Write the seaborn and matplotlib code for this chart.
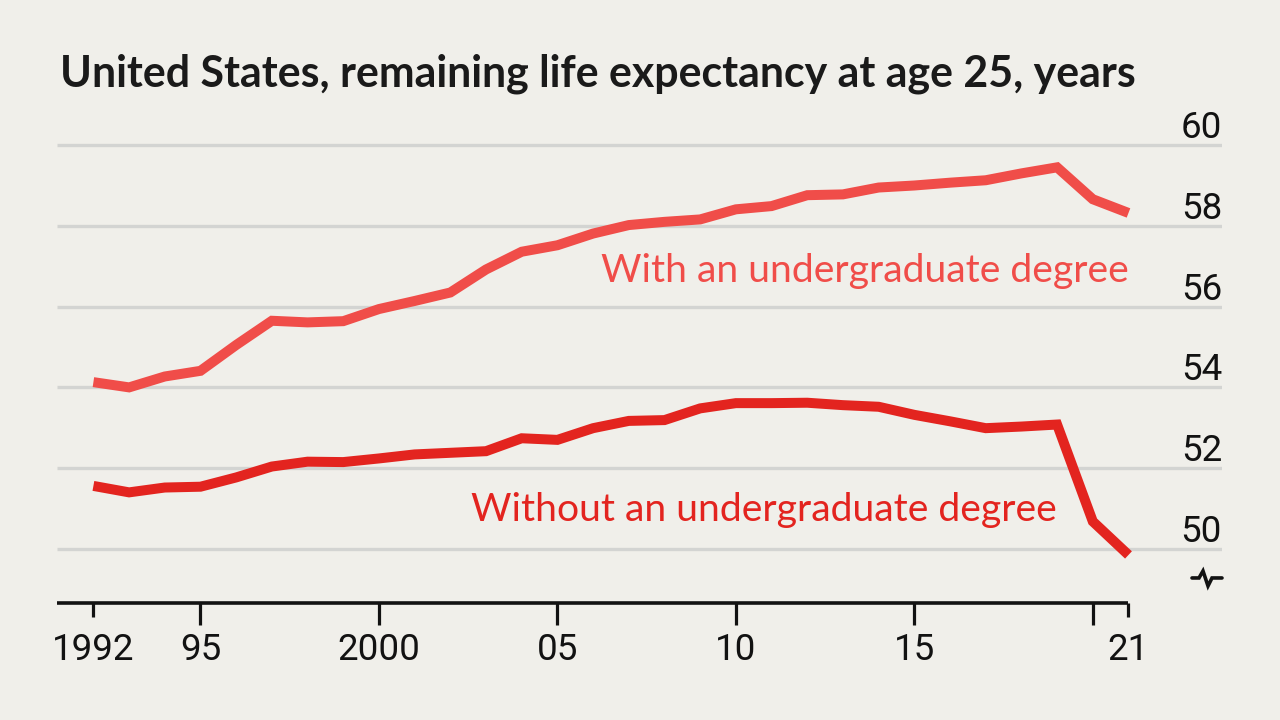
import numpy as np
import pandas as pd
import matplotlib
matplotlib.use("Agg")
import matplotlib.pyplot as plt
import seaborn as sns

years = list(range(1992, 2022))
with_degree = [54.13, 54.0, 54.27, 54.41, 55.05, 55.65, 55.61, 55.64, 55.94, 56.14,
               56.35, 56.92, 57.36, 57.52, 57.81, 58.02, 58.10, 58.16, 58.41, 58.49,
               58.76, 58.78, 58.95, 59.0, 59.07, 59.13, 59.3, 59.45, 58.66, 58.32]
without_degree = [51.56, 51.40, 51.52, 51.54, 51.77, 52.04, 52.16, 52.15, 52.24, 52.34,
                  52.38, 52.42, 52.74, 52.70, 52.99, 53.17, 53.19, 53.48, 53.61, 53.61,
                  53.62, 53.56, 53.52, 53.32, 53.16, 52.99, 53.03, 53.08, 50.68, 49.85]
series_names = ["With an undergraduate degree", "Without an undergraduate degree"]
series_colors = ["#F04D49", "#E3241F"]
y_ticks = [50, 52, 54, 56, 58, 60]
x_ticks = [1992, 1995, 2000, 2005, 2010, 2015, 2020, 2021]
x_labels = ["1992", "95", "2000", "05", "10", "15", "", "21"]
title = "United States, remaining life expectancy at age 25, years"

df = pd.DataFrame({
    "year": years * 2,
    "value": with_degree + without_degree,
    "series": [series_names[0]] * len(years) + [series_names[1]] * len(years),
})

BG = "#F0EFEA"
GRID = "#D3D4D2"
INK = "#121212"
NUM_FONT = ["Roboto", "DejaVu Sans"]

sns.set_theme(style="white")
plt.rcParams["font.family"] = ["Lato", "DejaVu Sans"]

fig = plt.figure(figsize=(12.8, 7.2), dpi=100, facecolor=BG)
ax = fig.add_axes([57 / 1280, 1 - 603 / 720, (1222 - 57) / 1280, (603 - 110) / 720])
ax.set_facecolor(BG)

x0, x1 = 1990.98, 2023.62
y0, y1 = 48.66, 60.87
ax.set_xlim(x0, x1)
ax.set_ylim(y0, y1)

# gridlines
ax.hlines(y_ticks, x0, x1, color=GRID, lw=2.4, zorder=1)

sns.lineplot(data=df, x="year", y="value", hue="series",
             palette=dict(zip(series_names, series_colors)),
             lw=7.2, legend=False, ax=ax, zorder=3, solid_joinstyle="miter",
             solid_capstyle="butt")

for s in ax.spines.values():
    s.set_visible(False)

# x axis line
ax.hlines(y0, x0, years[-1], color=INK, lw=2.6, zorder=4, clip_on=False)

# ticks: interior major, ends minor (shorter)
inner = [(t, l) for t, l in zip(x_ticks, x_labels) if t not in (years[0], years[-1])]
ends = [(t, l) for t, l in zip(x_ticks, x_labels) if t in (years[0], years[-1])]
ax.set_xticks([t for t, _ in inner])
ax.set_xticklabels([l for _, l in inner])
ax.set_xticks([t for t, _ in ends], minor=True)
ax.set_xticklabels([l for _, l in ends], minor=True)
ax.tick_params(axis="x", which="major", length=16, width=2.3, color=INK, pad=5,
               direction="out", bottom=True)
ax.tick_params(axis="x", which="minor", length=10, width=2.3, color=INK, pad=11,
               direction="out", bottom=True)
for lab in ax.get_xticklabels(which="both"):
    lab.set_fontfamily(NUM_FONT)
    lab.set_fontweight("normal")
    lab.set_fontsize(26.5)
    lab.set_color(INK)
ax.set_yticks([])
ax.set_xlabel("")
ax.set_ylabel("")

# y labels sitting on gridlines at the right
for v in y_ticks:
    ax.annotate(str(v), xy=(1, v), xycoords=ax.get_yaxis_transform(),
                xytext=(0, 5), textcoords="offset points", ha="right", va="baseline",
                fontsize=26.5, fontweight="normal", color=INK, family=NUM_FONT)

# axis break symbol (decoration, drawn in pixel offsets)
bx = np.array([1192, 1199, 1203, 1208, 1212, 1222])
by = np.array([0, 0, 7, -8, 0, 0])
ax.plot(x0 + (bx - 57) / 1165 * (x1 - x0), 49.28 + by / 40.4,
        color=INK, lw=2.6, clip_on=False, zorder=4, solid_joinstyle="miter")

# series labels
ax.text(years[-1], 56.61, series_names[0], color=series_colors[0], ha="right",
        va="baseline", fontsize=28.2)
ax.text(2019, 50.68, series_names[1], color=series_colors[1], ha="right",
        va="baseline", fontsize=28.2)

fig.text(60 / 1280, 1 - 86.7 / 720, title, fontsize=30.9, fontweight="bold",
         color="#1a1a1a", ha="left", va="baseline")

fig.savefig("out.png", dpi=100, facecolor=BG)
